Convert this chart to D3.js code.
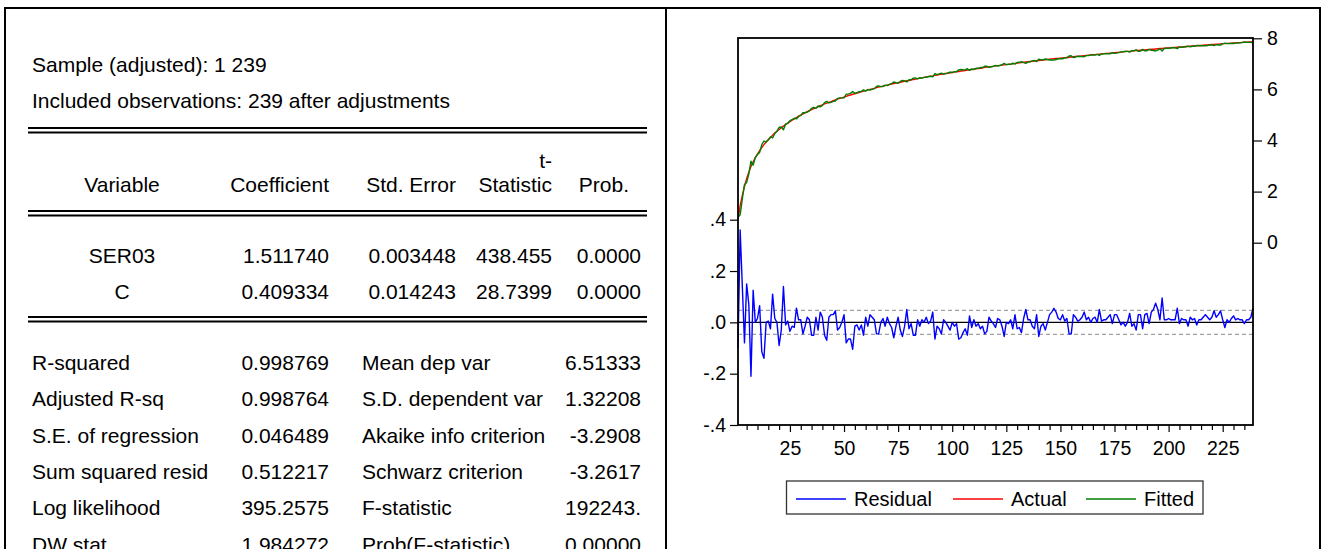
<!DOCTYPE html>
<html>
<head>
<meta charset="utf-8">
<script src="https://cdn.jsdelivr.net/npm/d3@7"></script>
<style>
  body { margin: 0; background: #fff; }
  svg { display: block; font-family: "Liberation Sans", Arial, sans-serif; }
</style>
</head>
<body>
<div id="chart"></div>
<script>
// ---- regression output (left panel) ----
const sampleLines = ["Sample (adjusted): 1 239", "Included observations: 239 after adjustments"];
const coefHeaders = ["Variable", "Coefficient", "Std. Error", "Statistic", "Prob."];
const coefRows = [
  ["SER03", "1.511740", "0.003448", "438.455", "0.0000"],
  ["C", "0.409334", "0.014243", "28.7399", "0.0000"]
];
const statLabelsL = ["R-squared", "Adjusted R-sq", "S.E. of regression", "Sum squared resid", "Log likelihood", "DW stat"];
const statValuesL = ["0.998769", "0.998764", "0.046489", "0.512217", "395.2575", "1.984272"];
const statLabelsR = ["Mean dep var", "S.D. dependent var", "Akaike info criterion", "Schwarz criterion", "F-statistic", "Prob(F-statistic)"];
const statValuesR = ["6.51333", "1.32208", "-3.2908", "-3.2617", "192243.", "0.00000"];
const seRegression = 0.046489;

// ---- chart data (right panel), observations 1..239 ----
const actual = [
  0.90,1.45,1.85,2.20,2.51,2.76,2.98,3.16,3.33,3.47,
  3.60,3.72,3.84,3.94,4.03,4.12,4.21,4.29,4.36,4.43,
  4.50,4.56,4.63,4.68,4.74,4.80,4.85,4.90,4.95,4.99,
  5.04,5.08,5.13,5.17,5.21,5.25,5.28,5.32,5.36,5.39,
  5.43,5.46,5.49,5.52,5.56,5.59,5.62,5.65,5.67,5.70,
  5.73,5.76,5.78,5.81,5.83,5.86,5.88,5.91,5.93,5.95,
  5.98,6.00,6.02,6.04,6.07,6.09,6.11,6.13,6.15,6.17,
  6.19,6.21,6.23,6.25,6.26,6.28,6.30,6.32,6.34,6.35,
  6.37,6.39,6.40,6.42,6.44,6.45,6.47,6.49,6.50,6.52,
  6.53,6.55,6.56,6.58,6.59,6.61,6.62,6.63,6.65,6.66,
  6.68,6.69,6.70,6.72,6.73,6.74,6.76,6.77,6.78,6.79,
  6.81,6.82,6.83,6.84,6.86,6.87,6.88,6.89,6.90,6.92,
  6.93,6.94,6.95,6.96,6.97,6.98,6.99,7.00,7.02,7.03,
  7.04,7.05,7.06,7.07,7.08,7.09,7.10,7.11,7.12,7.13,
  7.14,7.15,7.16,7.17,7.18,7.19,7.20,7.21,7.21,7.22,
  7.23,7.24,7.25,7.26,7.27,7.28,7.29,7.30,7.30,7.31,
  7.32,7.33,7.34,7.35,7.36,7.36,7.37,7.38,7.39,7.40,
  7.41,7.41,7.42,7.43,7.44,7.45,7.45,7.46,7.47,7.48,
  7.49,7.49,7.50,7.51,7.52,7.52,7.53,7.54,7.54,7.55,
  7.56,7.57,7.57,7.58,7.59,7.60,7.60,7.61,7.62,7.62,
  7.63,7.64,7.64,7.65,7.66,7.66,7.67,7.68,7.68,7.69,
  7.70,7.70,7.71,7.72,7.72,7.73,7.74,7.74,7.75,7.76,
  7.76,7.77,7.77,7.78,7.79,7.79,7.80,7.80,7.81,7.82,
  7.82,7.83,7.83,7.84,7.85,7.85,7.86,7.86,7.87
];

const residual = [
  -0.10,0.36,0.14,-0.08,0.15,0.07,-0.21,0.125,0.0,0.015,
  0.065,-0.115,-0.14,0.0,0.005,-0.025,0.11,0.015,0.0,-0.09,
  -0.03,0.14,-0.01,0.005,-0.035,-0.015,-0.02,0.055,0.01,0.01,
  -0.045,-0.015,0.02,0.01,-0.05,-0.05,0.02,-0.03,0.04,0.02,
  -0.05,-0.07,0.02,0.03,0.03,0.045,-0.03,-0.02,0.0,0.03,
  -0.08,-0.065,-0.065,-0.105,-0.015,-0.01,-0.03,-0.01,-0.05,0.02,
  -0.015,0.03,0.02,0.01,-0.045,-0.045,0.0,0.015,-0.015,0.02,
  -0.005,-0.02,-0.06,-0.015,0.02,-0.03,-0.055,-0.015,0.05,-0.025,
  -0.005,-0.05,-0.05,0.01,-0.015,0.01,0.0,0.02,-0.005,0.005,
  0.04,-0.065,-0.015,-0.025,-0.045,0.01,0.0,-0.015,-0.03,0.0,
  -0.015,-0.005,-0.065,-0.06,-0.04,-0.025,-0.05,0.025,-0.02,0.01,
  -0.015,-0.005,-0.025,-0.015,-0.045,-0.035,0.02,0.005,-0.005,-0.02,
  0.015,0.01,-0.015,-0.055,0.0,-0.005,0.01,-0.025,0.03,-0.025,
  -0.02,-0.04,0.015,0.05,0.01,0.01,-0.015,-0.025,0.03,-0.055,
  -0.015,-0.005,-0.03,0.0,0.03,0.04,0.055,0.04,0.015,0.01,
  0.03,0.005,0.015,-0.045,-0.045,0.03,0.02,0.005,0.01,0.02,
  0.04,0.01,0.02,0.0,0.015,0.02,0.0,0.05,0.005,0.01,
  0.01,0.02,0.03,-0.005,0.03,0.03,0.01,-0.01,0.0,-0.015,
  0.0,0.035,-0.015,-0.005,-0.03,0.03,0.03,-0.025,0.03,0.035,
  -0.005,0.04,0.05,0.075,0.05,0.01,0.095,0.01,0.01,0.015,
  0.01,0.01,0.01,0.055,-0.005,0.015,0.01,0.01,-0.015,0.02,
  0.01,0.015,-0.01,0.01,0.01,0.02,0.03,0.02,0.01,0.02,
  0.045,0.02,0.03,0.045,0.01,-0.02,0.01,0.0,0.015,0.025,
  0.01,0.015,0.01,0.01,-0.005,0.01,0.01,0.02,0.055
];

// Residual = Actual - Fitted, so the fitted series follows from the two above
const fitted = actual.map((a, i) => a - residual[i]);

const seriesNames = ["Residual", "Actual", "Fitted"];
const seriesColors = ["#0000ff", "#ff0000", "#008000"];
const leftTicks = [-0.4, -0.2, 0, 0.2, 0.4];
const rightTicks = [0, 2, 4, 6, 8];
const xTicks = d3.range(5, 239, 5);

const W = 1325, H = 549;
const svg = d3.select("#chart").append("svg").attr("width", W).attr("height", H);
svg.append("rect").attr("width", W).attr("height", H).attr("fill", "#fff");

// outer frame
const frame = svg.append("g").attr("stroke", "#000").attr("stroke-width", 2);
frame.append("line").attr("x1", 4).attr("x2", 1321).attr("y1", 8).attr("y2", 8);
[5, 666, 1320].forEach(x =>
  frame.append("line").attr("x1", x).attr("x2", x).attr("y1", 8).attr("y2", H));

// ---- table ----
const fs = 21;
const tbl = svg.append("g").attr("font-size", fs).attr("fill", "#000");
const base = cy => cy + 7.5;

sampleLines.forEach((t, i) =>
  tbl.append("text").attr("x", 32).attr("y", base(64 + i * 36.3)).text(t));

function doubleRule(y) {
  [y, y + 4.5].forEach(yy => tbl.append("line")
    .attr("x1", 28).attr("x2", 647).attr("y1", yy).attr("y2", yy)
    .attr("stroke", "#000").attr("stroke-width", 2));
}
doubleRule(128);
doubleRule(211);
doubleRule(317);

const colX = [122, 329, 456, 552, 641];
const colAnchor = ["middle", "end", "end", "end", "end"];
tbl.append("text").attr("x", 552).attr("y", base(160)).attr("text-anchor", "end").text("t-");
coefHeaders.forEach((h, i) => tbl.append("text")
  .attr("x", i === 4 ? 629 : colX[i]).attr("y", base(184))
  .attr("text-anchor", colAnchor[i]).text(h));
coefRows.forEach((row, r) => row.forEach((v, i) => tbl.append("text")
  .attr("x", colX[i]).attr("y", base(255.5 + r * 36))
  .attr("text-anchor", colAnchor[i]).text(v)));

statLabelsL.forEach((l, i) => {
  const y = base(362.3 + i * 36.4);
  tbl.append("text").attr("x", 32).attr("y", y).text(l);
  tbl.append("text").attr("x", 329).attr("y", y).attr("text-anchor", "end").text(statValuesL[i]);
  tbl.append("text").attr("x", 362).attr("y", y).text(statLabelsR[i]);
  tbl.append("text").attr("x", 641).attr("y", y).attr("text-anchor", "end").text(statValuesR[i]);
});

// ---- chart ----
const box = { left: 738, right: 1253, top: 38, bottom: 425 };
const x = d3.scaleLinear().domain([1, 239]).range([box.left, box.right]);
const yR = d3.scaleLinear().domain([0, 8]).range([242.7, 38.3]);
const yL = d3.scaleLinear().domain([-0.4, 0.4]).range([425, 219.7]);
const obs = d3.range(1, 240);
const afs = 19.5;

const chart = svg.append("g");

// reference lines for residual
chart.append("line").attr("x1", box.left).attr("x2", box.right)
  .attr("y1", yL(0)).attr("y2", yL(0)).attr("stroke", "#000").attr("stroke-width", 1.2);
[seRegression, -seRegression].forEach(v => chart.append("line")
  .attr("x1", box.left).attr("x2", box.right).attr("y1", yL(v)).attr("y2", yL(v))
  .attr("stroke", "#a0a0a0").attr("stroke-width", 1.2).attr("stroke-dasharray", "4,3"));

const lineL = d3.line().x((d, i) => x(obs[i])).y(d => yL(d));
const lineR = d3.line().x((d, i) => x(obs[i])).y(d => yR(d));
[[residual, lineL], [actual, lineR], [fitted, lineR]].forEach(([data, gen], k) =>
  chart.append("path").datum(data).attr("d", gen).attr("fill", "none")
    .attr("stroke", seriesColors[k]).attr("stroke-width", 1.4).attr("stroke-linejoin", "round"));

// plot box
chart.append("rect").attr("x", box.left).attr("y", box.top)
  .attr("width", box.right - box.left).attr("height", box.bottom - box.top)
  .attr("fill", "none").attr("stroke", "#000").attr("stroke-width", 1.8);

function styleAxis(g) {
  g.select(".domain").remove();
  g.selectAll(".tick line").attr("stroke", "#000").attr("stroke-width", 1.2);
  g.selectAll(".tick text").attr("fill", "#000").attr("font-size", afs)
    .attr("font-family", "Liberation Sans, Arial, sans-serif");
}

chart.append("g").attr("transform", `translate(${box.left},0)`)
  .call(d3.axisLeft(yL).tickValues(leftTicks).tickSize(8).tickPadding(4)
    .tickFormat(d => d3.format(".1f")(d).replace("\u2212", "-").replace("0.", ".")))
  .call(styleAxis);

chart.append("g").attr("transform", `translate(${box.right},0)`)
  .call(d3.axisRight(yR).tickValues(rightTicks).tickSize(9).tickPadding(5))
  .call(styleAxis);

chart.append("g").attr("transform", `translate(0,${box.bottom})`)
  .call(d3.axisBottom(x).tickValues(xTicks).tickSize(5).tickPadding(11)
    .tickFormat(d => d % 25 === 0 ? d : ""))
  .call(styleAxis)
  .call(g => g.selectAll(".tick line").filter(d => d % 25 === 0).attr("y2", 7));

// legend
const lg = svg.append("g");
lg.append("rect").attr("x", 786.5).attr("y", 481).attr("width", 416.5).attr("height", 33)
  .attr("fill", "#fff").attr("stroke", "#333").attr("stroke-width", 1.3);
const legendX = [796, 953, 1086];
seriesNames.forEach((n, i) => {
  lg.append("line").attr("x1", legendX[i]).attr("x2", legendX[i] + 50)
    .attr("y1", 499).attr("y2", 499).attr("stroke", seriesColors[i]).attr("stroke-width", 1.4);
  lg.append("text").attr("x", legendX[i] + 58).attr("y", 506).attr("font-size", 20)
    .attr("fill", "#000").text(n);
});
</script>
</body>
</html>
